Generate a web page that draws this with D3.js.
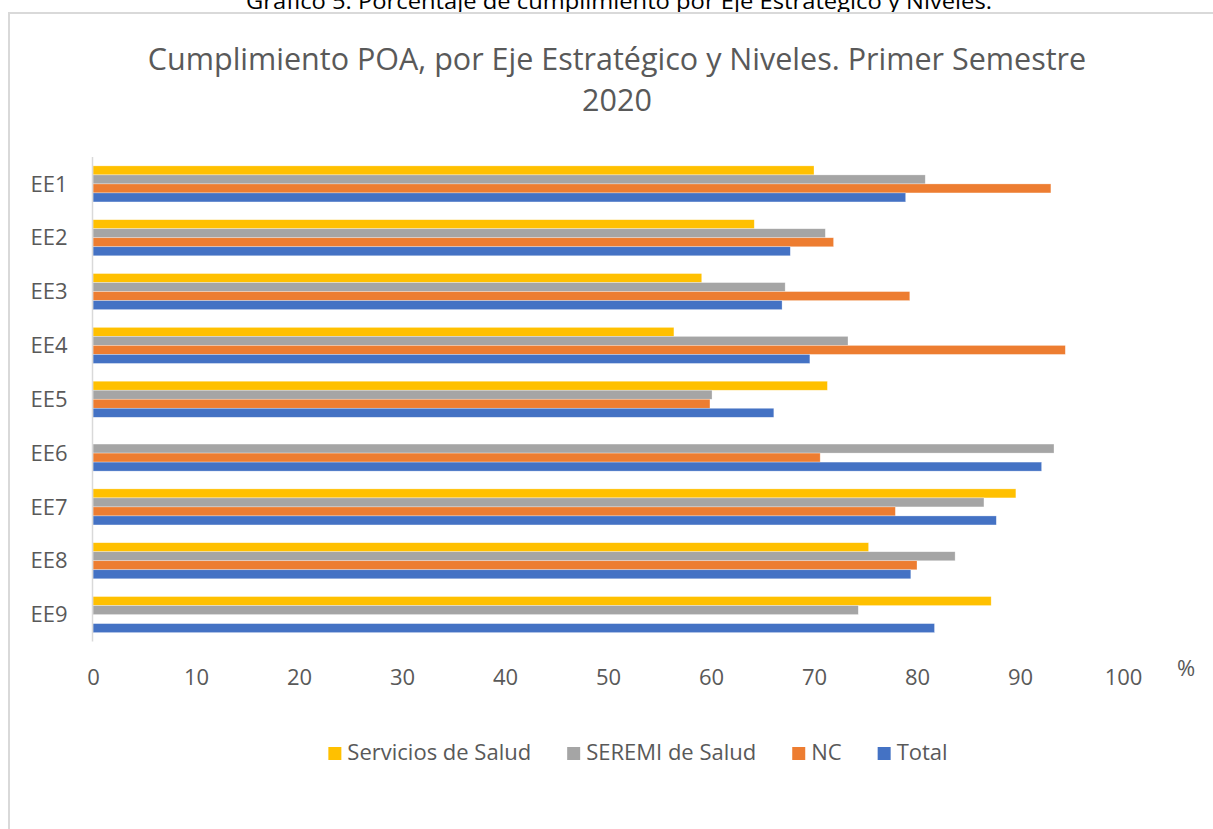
<!DOCTYPE html>
<html>
<head>
<meta charset="utf-8">
<script src="https://cdn.jsdelivr.net/npm/d3@7"></script>
<style>
  body { margin: 0; background: #fff; }
  svg { display: block; font-family: 'Open Sans', sans-serif; }
</style>
</head>
<body>
<main></main>
<script>
const width = 1213;
const height = 829;

const categories = ['EE1', 'EE2', 'EE3', 'EE4', 'EE5', 'EE6', 'EE7', 'EE8', 'EE9'];
const seriesNames = ['Servicios de Salud', 'SEREMI de Salud', 'NC', 'Total'];
const servicios = [70.0, 64.2, 59.1, 56.4, 71.3, null, 89.6, 75.3, 87.2];
const seremi = [80.8, 71.1, 67.2, 73.3, 60.1, 93.3, 86.5, 83.7, 74.3];
const nc = [93.0, 71.9, 79.3, 94.4, 59.9, 70.6, 77.9, 80.0, null];
const total = [78.9, 67.7, 66.9, 69.6, 66.1, 92.1, 87.7, 79.4, 81.7];
const xTicks = [0, 10, 20, 30, 40, 50, 60, 70, 80, 90, 100];
const colors = ['#FFC000', '#A5A5A5', '#ED7D31', '#4472C4'];

const caption = 'Gráfico 5. Porcentaje de cumplimiento por Eje Estratégico y Niveles.';
const titleLines = ['Cumplimiento POA, por Eje Estratégico y Niveles. Primer Semestre', '2020'];

const svg = d3.select('main')
              .append('svg')
              .attr('width', width)
              .attr('height', height);

// caption above the chart frame (cut off at the top, like the source)
svg.append('text')
   .attr('x', 619)
   .attr('y', 9)
   .attr('text-anchor', 'middle')
   .attr('font-size', 21)
   .attr('fill', '#000')
   .attr('textLength', 746)
   .attr('lengthAdjust', 'spacingAndGlyphs')
   .text(caption);

// chart frame
svg.append('rect')
   .attr('x', 9)
   .attr('y', 13)
   .attr('width', 1300)
   .attr('height', 900)
   .attr('fill', '#fff')
   .attr('stroke', '#d9d9d9')
   .attr('stroke-width', 2);

svg.selectAll('.title')
   .data(titleLines)
   .enter()
   .append('text')
   .attr('class', 'title')
   .attr('x', 617)
   .attr('y', (d, i) => 70 + i * 41)
   .attr('text-anchor', 'middle')
   .attr('font-size', 30.5)
   .attr('fill', '#595959')
   .text(d => d);

const xScale = d3.scaleLinear().domain([0, 100]).range([93, 1123]);
const yScale = d3.scaleBand().domain(categories).range([157, 641.5]).paddingInner(0.33).paddingOuter(0.165);
const inner = d3.scaleBand().domain(seriesNames).range([0, yScale.bandwidth()]);

const rows = [];
[servicios, seremi, nc, total].forEach((vals, s) => {
    vals.forEach((v, i) => {
        if (v !== null) rows.push({cat: categories[i], series: seriesNames[s], value: v, color: colors[s]});
    });
});

svg.selectAll('.bar')
   .data(rows)
   .enter()
   .append('rect')
   .attr('class', 'bar')
   .attr('x', xScale(0))
   .attr('y', d => yScale(d.cat) + inner(d.series))
   .attr('width', d => xScale(d.value) - xScale(0))
   .attr('height', inner.bandwidth())
   .attr('fill', d => d.color)
   .attr('stroke', 'rgba(255,255,255,0.5)')
   .attr('stroke-width', 0.6);

// axes
const xAxis = svg.append('g')
   .attr('transform', 'translate(0,' + 641.5 + ')')
   .call(d3.axisBottom(xScale).tickValues(xTicks).tickSize(0).tickFormat(d3.format('d')));
xAxis.select('.domain').remove();
xAxis.selectAll('text')
     .attr('dy', null)
     .attr('y', 43)
     .attr('font-size', 22)
     .attr('font-family', 'Open Sans, sans-serif')
     .attr('fill', '#595959');

const yAxis = svg.append('g')
   .attr('transform', 'translate(92.5,0)')
   .call(d3.axisLeft(yScale).tickSize(0).tickPadding(25));
yAxis.select('.domain')
     .attr('stroke', '#d9d9d9')
     .attr('stroke-width', 1.5)
     .attr('d', 'M0,157V641.5');
yAxis.selectAll('text')
     .attr('dy', '0.35em')
     .attr('font-size', 22)
     .attr('font-family', 'Open Sans, sans-serif')
     .attr('fill', '#595959');

svg.append('text')
   .attr('x', 1186)
   .attr('y', 676)
   .attr('text-anchor', 'middle')
   .attr('font-size', 22)
   .attr('fill', '#595959')
   .text('%');

// legend
const legend = svg.append('g').attr('class', 'legend');
let lx = 0;
seriesNames.forEach((name, i) => {
    const item = legend.append('g').attr('transform', 'translate(' + lx + ',0)');
    item.append('rect')
        .attr('x', 0).attr('y', -13)
        .attr('width', 13).attr('height', 13)
        .attr('fill', colors[i]);
    const t = item.append('text')
        .attr('x', 19).attr('y', 0)
        .attr('font-size', 22)
        .attr('fill', '#595959')
        .text(name);
    lx += 19 + t.node().getComputedTextLength() + 36;
});
const legendWidth = lx - 36;
legend.attr('transform', 'translate(' + (638 - legendWidth / 2) + ',760)');
</script>
</body>
</html>
